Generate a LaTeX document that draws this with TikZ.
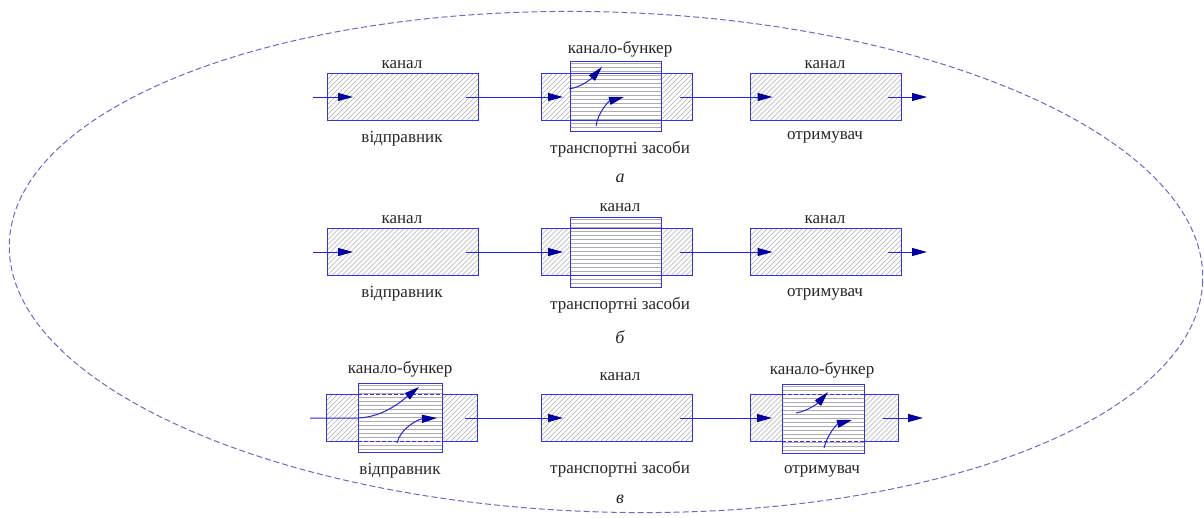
\documentclass[tikz,border=0pt]{standalone}
\usepackage{fontspec}
\setmainfont{Liberation Serif}
\usetikzlibrary{arrows.meta,calc}
\definecolor{edge}{RGB}{50,50,235}
\definecolor{wire}{RGB}{35,35,230}
\definecolor{head}{RGB}{0,0,165}
\definecolor{hatch}{RGB}{172,172,178}
\definecolor{oval}{RGB}{105,105,205}
\begin{document}
\begin{tikzpicture}[x=1pt,y=-1pt,
  font=\fontsize{17}{20}\selectfont,
  hline/.style={draw=hatch, line width=0.45pt},
  % diagonal hatching clipped to the node outline
  slant/.style={path picture={
    \foreach \k in {-80,-75,...,170}
      \draw[hline] ($(path picture bounding box.south west)+(\k,0)$) -- ++(80,-80);}},
  % horizontal ruling clipped to the node outline
  level/.style={path picture={
    \foreach \k in {2,6,...,74}
      \draw[hline] ($(path picture bounding box.north west)+(0,\k)$) -- ++(100,0);}},
  chan/.style={draw=edge, line width=0.9pt, inner sep=0pt, outer sep=0pt,
    minimum width=151pt, minimum height=47pt, slant},
  bunk/.style={draw=edge, line width=0.9pt, inner sep=0pt, outer sep=0pt,
    minimum width=91pt, minimum height=70pt, fill=white, level},
  rim/.style={draw=edge, line width=0.9pt, inner sep=0pt, outer sep=0pt,
    minimum width=151pt, minimum height=47pt},
  inner/.style={draw=edge, line width=0.9pt, dash pattern=on 4pt off 2pt},
  flow/.style={draw=wire, line width=1pt,
    -{Triangle[length=15pt,width=8pt,color=head]}},
  lbl/.style={inner sep=0pt, anchor=base, text=black!85},
  tag/.style={inner sep=0pt, anchor=base, text=black!85,
    font=\fontsize{18}{20}\selectfont\itshape},
]
\useasboundingbox (0,0) rectangle (1204,517);

% dashed outline around all three schemes
\draw[oval, line width=1pt, dash pattern=on 6pt off 3pt, rotate around={-1.8:(606,262)}]
  (606,262) ellipse [x radius=597, y radius=250];

% ---------- scheme a ----------
\node[chan] (a1) at (402.5,96.5) {};
\node[chan] (a2) at (616.5,96.5) {};
\node[bunk] (ab) at (615.5,96) {};
\node[rim]  (a2r) at (616.5,96.5) {};
\node[chan] (a3) at (826,96.5) {};

\node[lbl] (ta1) at (402,68) {канал};
\node[lbl] (la1) at (402,142) {відправник};
\node[lbl] (tab) at (620,53) {канало-бункер};
\node[lbl] (lab) at (620,153) {транспортні засоби};
\node[lbl] (ta3) at (825,68) {канал};
\node[lbl] (la3) at (825,139) {отримувач};
\node[tag] (ka) at (620,182) {а};

\coordinate (ain)  at (313,97);
\coordinate (aout) at (927,97);
\draw[flow] (ain) -- ($(a1.west)+(26,0.5)$);
\draw[flow] ($(a1.east)+(-12,0.5)$) -- ($(a2.west)+(22,0.5)$);
\draw[flow] ($(a2.east)+(-12,0.5)$) -- ($(a3.west)+(22,0.5)$);
\draw[flow] ($(a3.east)+(-14,0.5)$) -- (aout);
\coordinate (au1) at (569,89);  \coordinate (au2) at (602,67);
\coordinate (ad1) at (596,126); \coordinate (ad2) at (624,97);
\draw[flow] (au1) .. controls (582,87) and (592,78) .. (au2);
\draw[flow] (ad1) .. controls (598,112) and (609,101) .. (ad2);

% ---------- scheme б ----------
\node[chan] (b1) at (402.5,252) {};
\node[chan] (b2) at (616.5,252) {};
\node[bunk] (bb) at (615.5,252) {};
\node[rim]  (b2r) at (616.5,252) {};
\node[chan] (b3) at (826,252) {};

\node[lbl] (tb1) at (402,223) {канал};
\node[lbl] (lb1) at (402,297) {відправник};
\node[lbl] (tbb) at (620,211) {канал};
\node[lbl] (lbb) at (620,309) {транспортні засоби};
\node[lbl] (tb3) at (825,223) {канал};
\node[lbl] (lb3) at (825,296) {отримувач};
\node[tag] (kb) at (620,343) {б};

\coordinate (bin)  at (313,252);
\coordinate (bout) at (927,252);
\draw[flow] (bin) -- ($(b1.west)+(26,0)$);
\draw[flow] ($(b1.east)+(-12,0)$) -- ($(b2.west)+(22,0)$);
\draw[flow] ($(b2.east)+(-12,0)$) -- ($(b3.west)+(22,0)$);
\draw[flow] ($(b3.east)+(-14,0)$) -- (bout);

% ---------- scheme в ----------
\node[chan] (c1) at (401.5,417.5) {};
\node[bunk, minimum width=84pt, minimum height=69pt] (cb1) at (400,417.5) {};
\draw[inner] (cb1.west |- c1.north) -- (cb1.east |- c1.north);
\draw[inner] (cb1.west |- c1.south) -- (cb1.east |- c1.south);
\node[chan] (c2) at (616.5,417.5) {};
\node[chan, minimum width=148pt] (c3) at (824,418) {};
\node[bunk, minimum width=82pt, minimum height=69pt] (cb3) at (823,418.5) {};
\draw[inner] (cb3.west |- c3.north) -- (cb3.east |- c3.north);
\draw[inner] (cb3.west |- c3.south) -- (cb3.east |- c3.south);

\node[lbl] (tc1) at (400,373) {канало-бункер};
\node[lbl] (lc1) at (400,474) {відправник};
\node[lbl] (tc2) at (620,380) {канал};
\node[lbl] (lc2) at (620,473) {транспортні засоби};
\node[lbl] (tc3) at (822,374) {канало-бункер};
\node[lbl] (lc3) at (822,473) {отримувач};
\node[tag] (kc) at (620,503) {в};

\coordinate (cin)  at (310,418);
\coordinate (cout) at (923,418);
\coordinate (cu2) at (419,387);
\coordinate (cd1) at (397,443); \coordinate (cd2) at (437,418);
\draw[flow] (cin) -- (cb1.west |- cin) .. controls (385,417) and (404,399) .. (cu2);
\draw[flow] (cd1) .. controls (400,429) and (418,419) .. (cd2);
\draw[flow] ($(c1.east)+(-12,0.5)$) -- ($(c2.west)+(22,0.5)$);
\draw[flow] ($(c2.east)+(-12,0.5)$) -- ($(c3.west)+(22,0)$);
\draw[flow] ($(c3.east)+(-15,0)$) -- (cout);
\coordinate (eu1) at (796,413); \coordinate (eu2) at (828,392);
\coordinate (ed1) at (824,448); \coordinate (ed2) at (852,420);
\draw[flow] (eu1) .. controls (808,411) and (818,403) .. (eu2);
\draw[flow] (ed1) .. controls (827,435) and (837,424) .. (ed2);
\end{tikzpicture}
\end{document}
